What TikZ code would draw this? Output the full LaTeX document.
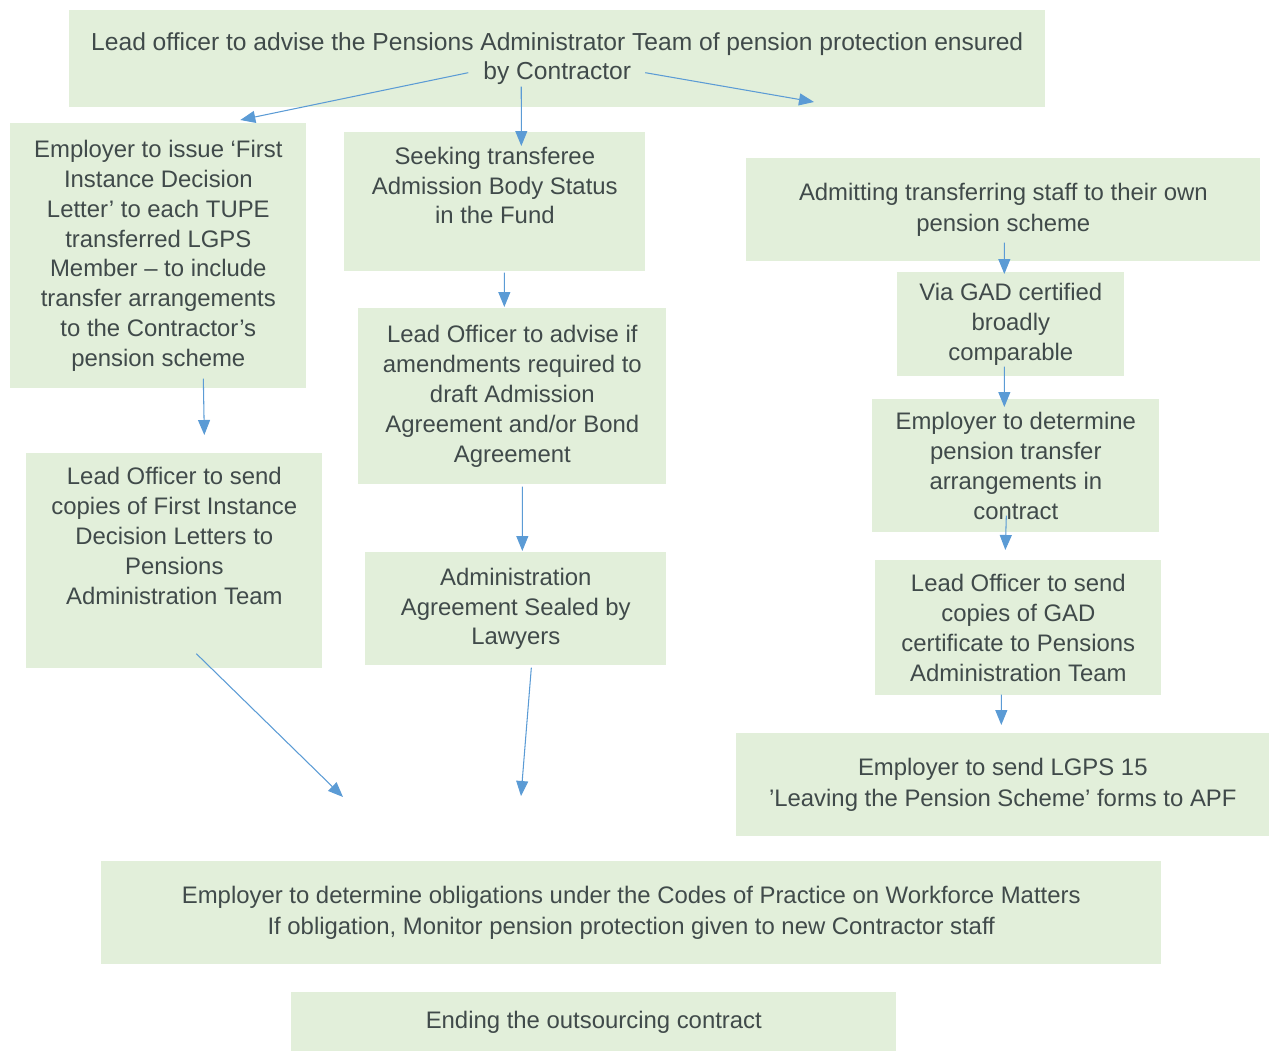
\documentclass[tikz,border=0pt]{standalone}
\usepackage{fontspec}
\setmainfont{Liberation Sans}
\usepackage{xcolor}
\usetikzlibrary{arrows.meta}
\definecolor{boxgreen}{HTML}{E2EFDA}
\definecolor{txtgrey}{HTML}{404A4A}
\definecolor{arrowblue}{HTML}{5B9BD5}
\tikzset{
    box/.style={fill=boxgreen, text=txtgrey, align=center, anchor=north west,
        inner sep=0pt, font=\fontsize{13.6}{17}\selectfont},
    widebox/.style={box, font=\fontsize{13.6}{18.1}\selectfont},
    flow/.style={arrowblue, line width=0.6pt, -{Triangle[length=0.3cm,width=0.24cm]}}
}
\begin{document}
\begin{tikzpicture}[x=0.02cm, y=-0.02cm]
    \useasboundingbox (0,0) rectangle (1270,1052);
    % First, locate each of the nodes and name them
        \node[box, font=\fontsize{14}{16.5}\selectfont, minimum width=19.52cm, minimum height=1.94cm] (top) at (69,10)
            {Lead officer to advise the Pensions Administrator Team of pension protection ensured\\by Contractor};
        \node[box, minimum width=5.92cm, minimum height=5.3cm] (issue) at (10,123)
            {Employer to issue ‘First\\Instance Decision\\Letter’ to each TUPE\\transferred LGPS\\Member – to include\\transfer arrangements\\to the Contractor’s\\pension scheme};
        \node[box, minimum width=6.02cm, minimum height=2.78cm] (seek) at (344,132)
            {Seeking transferee\\Admission Body Status\\in the Fund\\[0.06cm]\mbox{}};
        \node[box, minimum width=6.16cm, minimum height=3.52cm] (advise) at (358,308)
            {Lead Officer to advise if\\amendments required to\\draft Admission\\Agreement and/or Bond\\Agreement};
        \node[box, minimum width=5.92cm, minimum height=4.3cm] (sendfirst) at (26,453)
            {Lead Officer to send\\copies of First Instance\\Decision Letters to\\Pensions\\Administration Team\\[0.4cm]\mbox{}};
        \node[box, minimum width=6.02cm, minimum height=2.26cm] (sealed) at (365,552)
            {Administration\\Agreement Sealed by\\Lawyers};
        \node[widebox, minimum width=10.28cm, minimum height=2.06cm] (admit) at (746,158)
            {Admitting transferring staff to their own\\pension scheme};
        \node[box, minimum width=4.54cm, minimum height=2.08cm] (gad) at (897,272)
            {Via GAD certified\\broadly\\comparable};
        \node[box, minimum width=5.74cm, minimum height=2.66cm] (determine) at (872,399)
            {Employer to determine\\pension transfer\\arrangements in\\contract};
        \node[box, minimum width=5.72cm, minimum height=2.7cm] (sendgad) at (875,560)
            {Lead Officer to send\\copies of GAD\\certificate to Pensions\\Administration Team};
        \node[widebox, minimum width=10.66cm, minimum height=2.06cm] (leaving) at (736,733)
            {Employer to send LGPS 15\\’Leaving the Pension Scheme’ forms to APF};
        \node[widebox, minimum width=21.2cm, minimum height=2.06cm] (obligations) at (101,861)
            {Employer to determine obligations under the Codes of Practice on Workforce Matters\\If obligation, Monitor pension protection given to new Contractor staff};
        \node[box, minimum width=12.1cm, minimum height=1.18cm] (ending) at (291,992)
            {Ending the outsourcing contract};

    % Loose ends of the arrows that point at nothing
        \coordinate (topright) at (814,102);
        \coordinate (firstend) at (343,797);
        \coordinate (sealend) at (521,796);

    % Now draw the lines:
        \draw[flow] ([shift={(-89,-35)}]top.south) -- ([shift={(82,-3)}]issue.north);
        \draw[flow] ([shift={(-36,-21)}]top.south) -- ([shift={(26.5,14)}]seek.north);
        \draw[flow] ([shift={(88,-35)}]top.south) -- (topright);
        \draw[flow] ([shift={(9.5,1)}]seek.south) -- ([shift={(-8,-1)}]advise.north);
        \draw[flow] ([shift={(45,-10)}]issue.south) -- ([shift={(30,-18)}]sendfirst.north);
        \draw[flow] ([shift={(10,2)}]advise.south) -- ([shift={(6.5,-1)}]sealed.north);
        \draw[flow] ([shift={(22,-15)}]sendfirst.south) -- (firstend);
        \draw[flow] ([shift={(15.5,2)}]sealed.south) -- (sealend);
        \draw[flow] ([shift={(1,-19)}]admit.south) -- ([shift={(-6.5,2)}]gad.north);
        \draw[flow] ([shift={(-6.5,-10)}]gad.south) -- ([shift={(-11.5,8)}]determine.north);
        \draw[flow] ([shift={(-9.5,-17)}]determine.south) -- ([shift={(-13,-10)}]sendgad.north);
        \draw[flow] ([shift={(-17,-1)}]sendgad.south) -- ([shift={(-1.5,-8)}]leaving.north);
\end{tikzpicture}
\end{document}
